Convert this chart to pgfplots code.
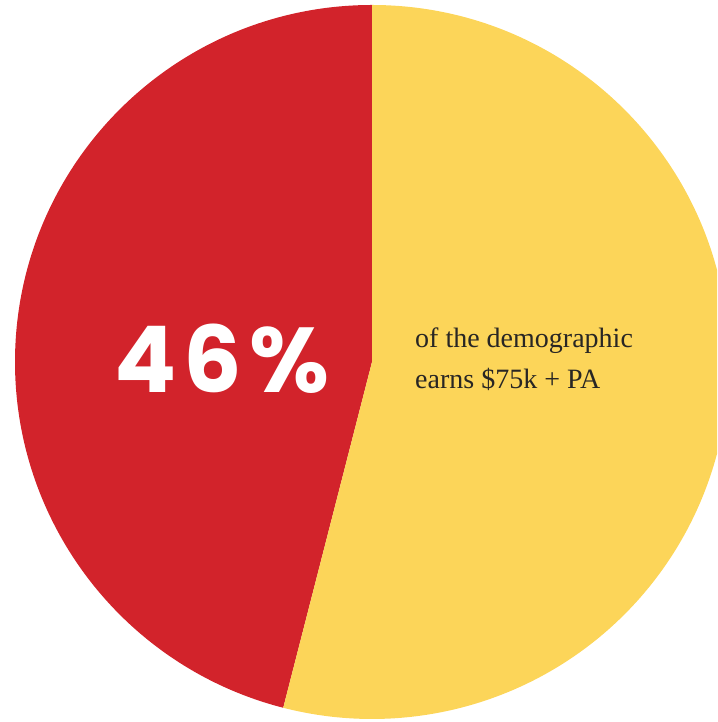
\documentclass[border=0pt]{standalone}
\usepackage{pgfplots}
\pgfplotsset{compat=1.18}
\usepackage{pgfplotstable}
\usepackage{fontspec}
\setmainfont{Liberation Serif}
\newfontfamily\numfont[LetterSpace=8.0]{Poppins}
\definecolor{pred}{RGB}{210,35,43}
\definecolor{pyel}{RGB}{252,213,89}
\definecolor{ptext}{RGB}{40,38,36}
\pgfplotstableread{
label value
Yes 46
No 54
}\piedata
\begin{document}
\begin{tikzpicture}
\pgfplotstablegetelem{0}{value}\of\piedata
\let\va\pgfplotsretval
\pgfmathsetmacro\aend{90+3.6*\va}
\pgfmathsetmacro\bend{\aend-360}
\begin{axis}[width=717pt,height=722pt,scale only axis,
  xmin=0,xmax=717,ymin=0,ymax=722,hide axis,clip=true]
\clip (axis cs:0,0) rectangle (axis cs:717,722);
\fill[pred] (axis cs:372,360) -- (axis cs:372,717) arc[start angle=90,end angle=\aend,radius=357pt] -- cycle;
\fill[pyel] (axis cs:372,360) -- (axis cs:372,717) arc[start angle=90,end angle=\bend,radius=357pt] -- cycle;
\node[anchor=base,inner sep=0pt,text=white,font=\numfont\bfseries\fontsize{92}{92}\selectfont] at (axis cs:222,329) {46\%};
\node[anchor=base west,inner sep=0pt,text=ptext,align=left,font=\fontsize{28}{41}\selectfont] at (axis cs:415,333) {of the demographic\\earns \$75k + PA};
\end{axis}
\pgfresetboundingbox
\useasboundingbox (current axis.south west) rectangle (current axis.north east);
\end{tikzpicture}
\end{document}
